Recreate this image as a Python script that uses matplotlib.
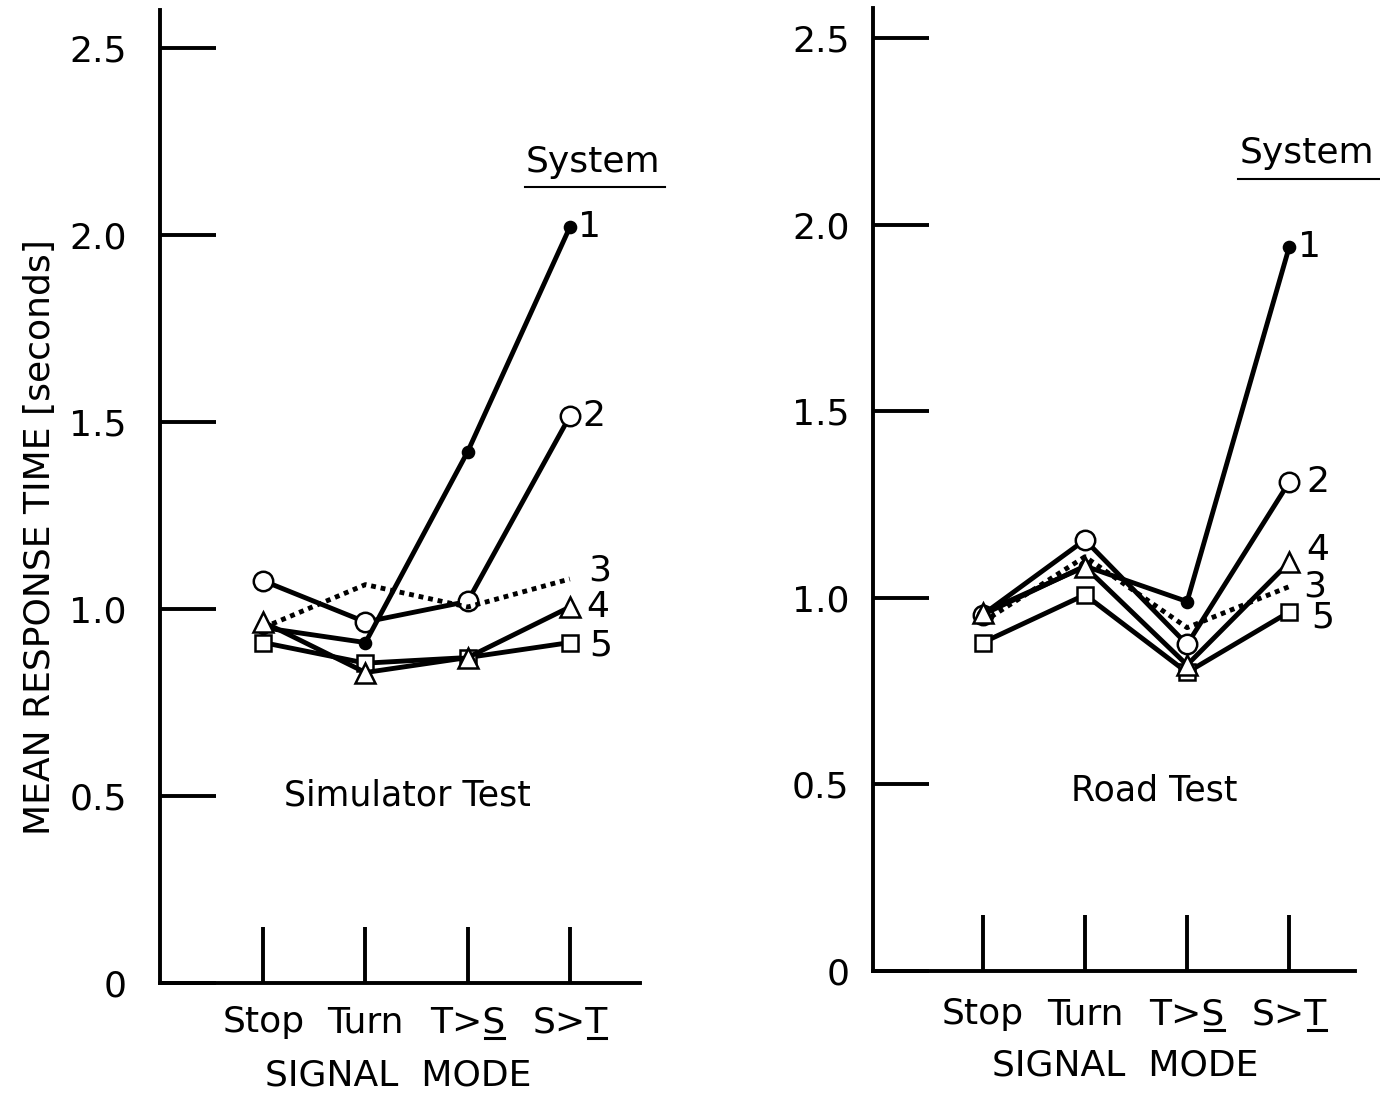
import matplotlib
matplotlib.use("Agg")
import matplotlib.pyplot as plt
from matplotlib.lines import Line2D

plt.rcParams['font.family'] = ['DejaVu Sans']

modes = ['Stop', 'Turn', 'T>S', 'S>T']
systems = ['1', '2', '3', '4', '5']

sim_values = {
    '1': [0.95, 0.91, 1.42, 2.02],
    '2': [1.075, 0.965, 1.02, 1.515],
    '3': [0.95, 1.065, 1.005, 1.08],
    '4': [0.965, 0.83, 0.87, 1.005],
    '5': [0.91, 0.855, 0.87, 0.91],
}
road_values = {
    '1': [0.955, 1.085, 0.99, 1.94],
    '2': [0.955, 1.155, 0.875, 1.31],
    '3': [0.935, 1.11, 0.92, 1.03],
    '4': [0.96, 1.083, 0.82, 1.095],
    '5': [0.88, 1.008, 0.80, 0.962],
}
yticks = [0, 0.5, 1.0, 1.5, 2.0, 2.5]
yticklabels = ['0', '0.5', '1.0', '1.5', '2.0', '2.5']

styles = {
    '1': dict(marker='o', ms=8, mfc='black', mec='black', ls='-'),
    '2': dict(marker='o', ms=14, mfc='white', mec='black', ls='-'),
    '3': dict(marker='None', ls=(0, (1, 1)), dash_capstyle='butt'),
    '4': dict(marker='^', ms=15, mfc='white', mec='black', ls='-'),
    '5': dict(marker='s', ms=12, mfc='white', mec='black', ls='-'),
}
draw_order = ['2', '1', '3', '5', '4']

sim_label_offsets = {'1': (6, 0), '2': (9, 0), '3': (13, 6), '4': (12, 0), '5': (14, -2)}
road_label_offsets = {'1': (6, 0), '2': (12, 0), '3': (10, 0), '4': (12, 9), '5': (16, -4)}

FS = 26

fig = plt.figure(figsize=(13.8, 10.93), dpi=100)
ax1 = fig.add_axes([0.116, 0.1006, 0.348, 0.890])
ax2 = fig.add_axes([0.6326, 0.1116, 0.349, 0.881])

def setup(ax, data, offsets, xlim, ylim, title, title_xy, sys_xy, ypad, xpad):
    x = list(range(len(modes)))
    for s in draw_order:
        st = dict(styles[s])
        ax.plot(x, data[s], color='black', lw=3.5, mew=1.8, zorder=3, clip_on=False, **st)
        dx, dy = offsets[s]
        ax.annotate(s, xy=(x[-1], data[s][-1]), xytext=(dx, dy), textcoords='offset points',
                    ha='left', va='center', fontsize=FS)
    ax.set_xlim(*xlim)
    ax.set_ylim(*ylim)
    for side in ['top', 'right']:
        ax.spines[side].set_visible(False)
    for side in ['left', 'bottom']:
        ax.spines[side].set_linewidth(2.8)
    ax.set_yticks(yticks)
    ax.set_yticklabels(yticklabels)
    ax.set_xticks(x)
    ax.set_xticklabels(modes)
    ax.tick_params(axis='y', direction='in', length=40, width=2.8, pad=ypad, labelsize=FS)
    ax.tick_params(axis='x', direction='in', length=40, width=2.8, pad=xpad, labelsize=FS)
    ax.text(title_xy[0], title_xy[1], title, ha='center', va='center', fontsize=FS - 1)
    ax.text(sys_xy[0], sys_xy[1], 'System', ha='center', va='center', fontsize=FS,
            transform=ax.transAxes)
    ax.add_line(Line2D([sys_xy[0] - 0.142, sys_xy[0] + 0.15], [sys_xy[1] - 0.026, sys_xy[1] - 0.026],
                       transform=ax.transAxes, color='black', lw=1.5, clip_on=False))

setup(ax1, sim_values, sim_label_offsets, (-1.01, 3.69), (0, 2.6), 'Simulator Test',
      (1.41, 0.5), (0.902, 0.844), 24, 16)
setup(ax2, road_values, road_label_offsets, (-1.075, 3.64), (0, 2.58), 'Road Test',
      (1.68, 0.485), (0.90, 0.849), 17, 19)

fig.text(398 / 1380, 1 - 1075 / 1093, 'SIGNAL  MODE', ha='center', va='center', fontsize=FS)
fig.text(1125 / 1380, 1 - 1065 / 1093, 'SIGNAL  MODE', ha='center', va='center', fontsize=FS)
fig.text(40 / 1380, 1 - 537 / 1093, 'MEAN RESPONSE TIME [seconds]', rotation=90,
         ha='center', va='center', fontsize=FS)

# underline the last letter of the compound signal-mode labels
fig.canvas.draw()
renderer = fig.canvas.get_renderer()
W, H = fig.bbox.width, fig.bbox.height
for ax in (ax1, ax2):
    for lab in ax.get_xticklabels():
        txt = lab.get_text()
        if '>' in txt:
            bb = lab.get_window_extent(renderer)
            w, h, d = renderer.get_text_width_height_descent(txt[-1], lab.get_fontproperties(), ismath=False)
            x1 = bb.x1 - 1
            x0 = x1 - w + 4
            y = bb.y0 + 1
            fig.add_artist(Line2D([x0 / W, x1 / W], [y / H, y / H], transform=fig.transFigure,
                                  color='black', lw=2.2))

fig.savefig('out.png', dpi=100, facecolor='white')
